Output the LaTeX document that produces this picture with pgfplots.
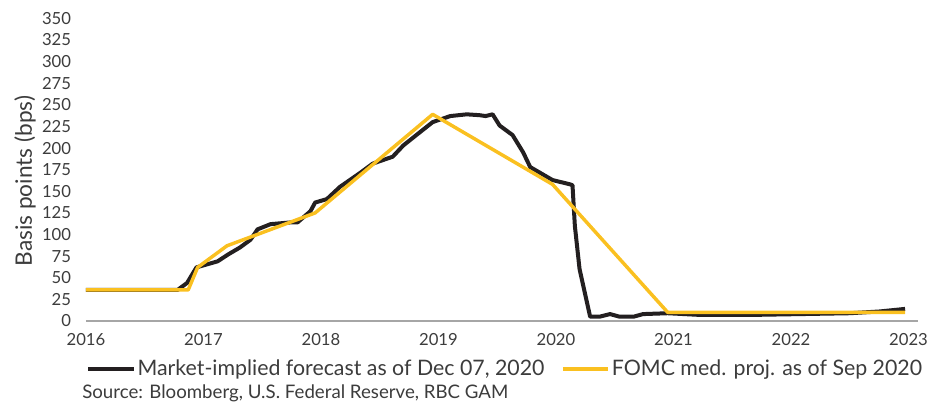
\documentclass[border=0pt]{standalone}
\usepackage{pgfplots}
\pgfplotsset{compat=1.18}
\usepackage{fontspec}
\setmainfont{Lato}
\definecolor{mkt}{RGB}{35,31,32}
\definecolor{fomc}{RGB}{250,192,32}
\definecolor{txt}{RGB}{60,60,60}

\begin{document}
\begin{tikzpicture}
\path[use as bounding box] (-64.5pt,-63pt) rectangle (648.75pt,240.75pt);
\begin{axis}[
  at={(0,0)}, anchor=south west,
  scale only axis,
  width=624pt, height=227pt,
  xmin=2016, xmax=2023.08,
  ymin=0, ymax=350,
  xtick={2016,2017,...,2023},
  ytick={0,25,...,350},
  /pgf/number format/assume math mode=true,
  /pgf/number format/1000 sep={},
  axis x line*=bottom,
  axis y line*=left,
  x axis line style={draw=gray!70, line width=0.8pt, -},
  y axis line style={draw=none},
  major tick length=0pt,
  tick label style={font=\fontsize{12.5}{14}\selectfont, text=txt},
  yticklabel style={anchor=east, inner sep=0pt, xshift=-11pt},
  xticklabel style={anchor=north, inner sep=0pt, yshift=-9pt},
  ylabel={Basis points (bps)},
  ylabel style={at={(axis description cs:-0.0733,0.462)}, anchor=center, font=\fontsize{17}{19}\selectfont, text=txt},
  legend columns=2,
  legend style={at={(axis description cs:0,0)}, anchor=west, yshift=-36pt,
    draw=none, fill=none, inner sep=0pt,
    font=\fontsize{16}{18}\selectfont,
    nodes={inner sep=1.5pt, text=txt},
    /tikz/every even column/.append style={column sep=11pt}},
  legend image code/.code={\draw[#1] (0pt,0pt) -- (34pt,0pt);},
]
\addplot[mkt, line width=3pt, line join=round] coordinates {
 (2016.00,36) (2016.78,36) (2016.86,44) (2016.94,62) (2017.12,69) (2017.21,77)
 (2017.31,85) (2017.40,94) (2017.46,106) (2017.57,112) (2017.74,114) (2017.80,114)
 (2017.91,127) (2017.95,137) (2018.05,141) (2018.16,155) (2018.33,171) (2018.44,182)
 (2018.61,190) (2018.70,203) (2018.82,216) (2018.95,230) (2019.10,237) (2019.24,239)
 (2019.35,238) (2019.40,237) (2019.46,239) (2019.52,226) (2019.63,215) (2019.72,195)
 (2019.78,178) (2019.97,163) (2020.12,158) (2020.14,157) (2020.16,110) (2020.20,60)
 (2020.29,5) (2020.37,5) (2020.46,8) (2020.54,5) (2020.66,5) (2020.74,8)
 (2020.95,9) (2021.23,7) (2021.65,7) (2022.08,8) (2022.50,9) (2022.75,11) (2022.97,14)
};
\addplot[fomc, line width=2.6pt, line join=round] coordinates {
 (2016.00,36) (2016.87,36) (2016.95,62) (2017.20,87) (2017.95,125) (2018.95,239)
 (2019.97,158) (2020.95,10) (2022.97,10)
};
\legend{{Market-implied forecast as of Dec 07, 2020}, {FOMC med. proj. as of Sep 2020}}
\end{axis}
\node[anchor=west, inner sep=0pt, text=txt, font=\fontsize{14}{16}\selectfont] at (-3pt,-54pt) {Source: Bloomberg, U.S. Federal Reserve, RBC GAM};
\end{tikzpicture}
\end{document}
